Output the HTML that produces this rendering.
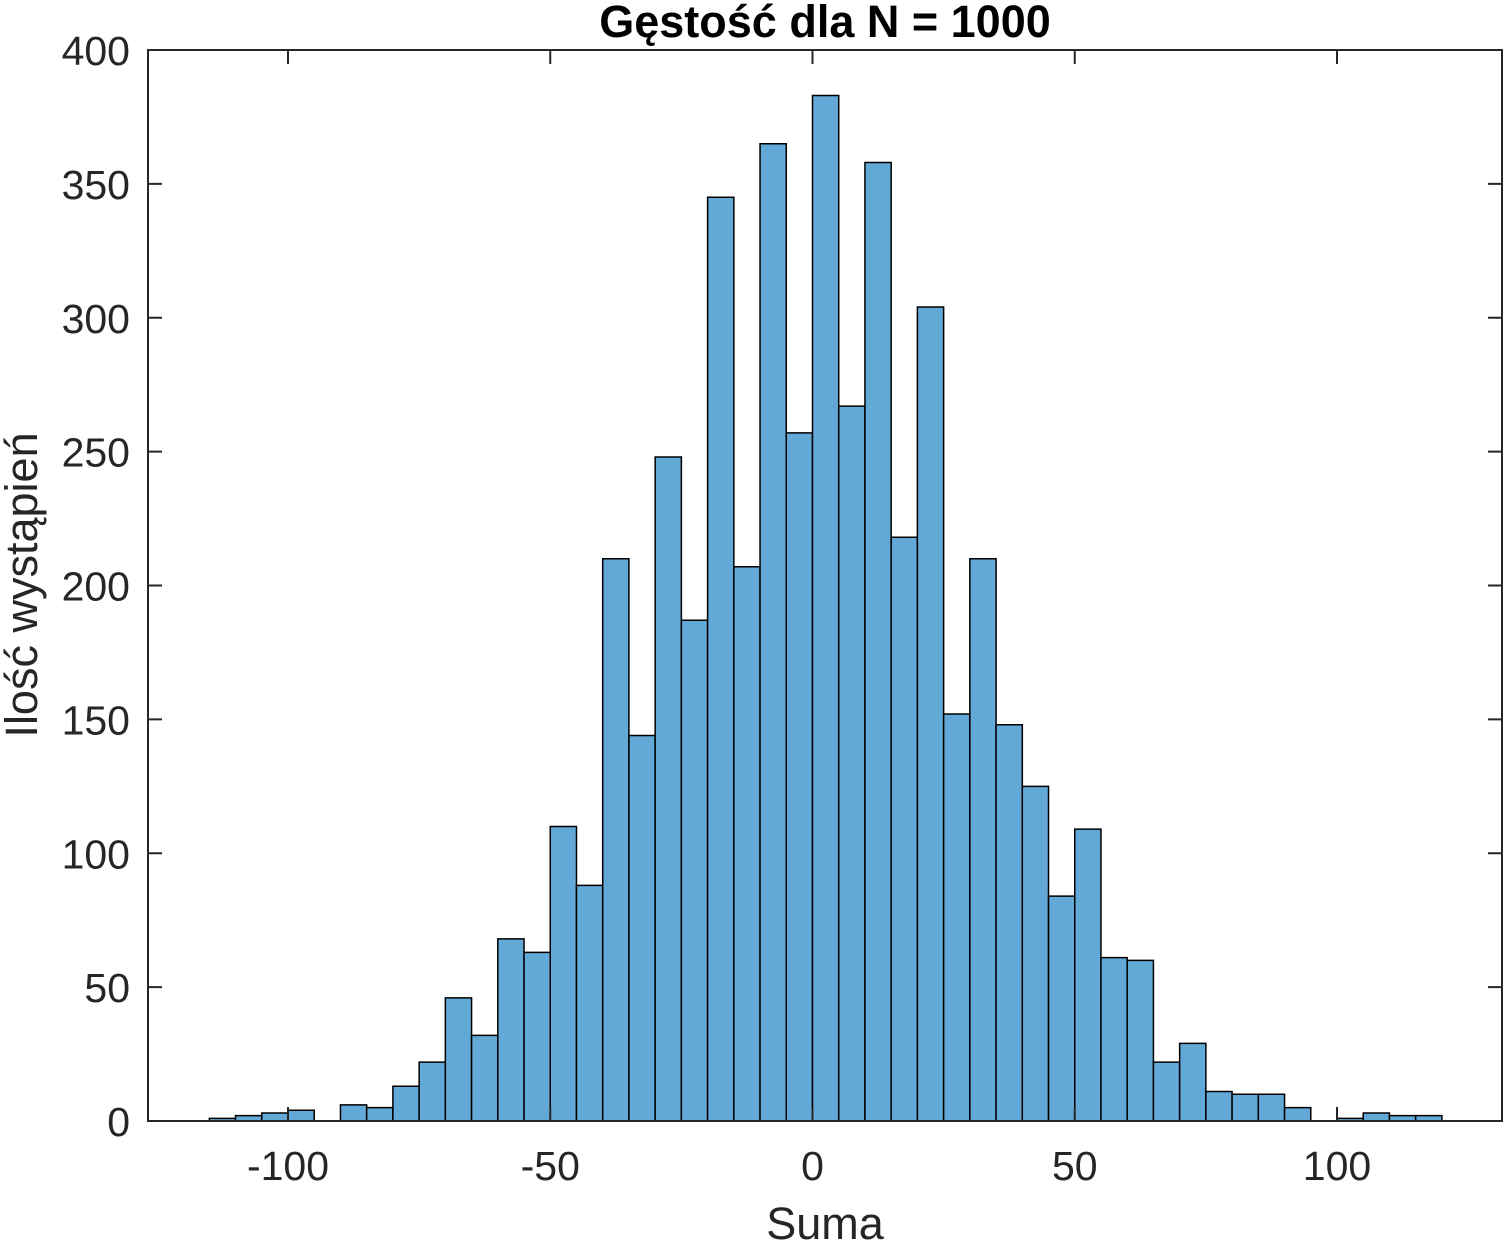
<!DOCTYPE html>
<html><head><meta charset="utf-8"><style>
html,body{margin:0;padding:0;background:#fff;}
svg text{font-family:"Liberation Sans",sans-serif;fill:#262626;}
</style></head><body>
<svg id="chart" width="1506" height="1244" xmlns="http://www.w3.org/2000/svg">
<g id="bars"></g>
<g id="axes"></g>
<text x="825" y="37" text-anchor="middle" font-size="45" font-weight="bold" style="fill:#000">Gęstość dla N = 1000</text>
<text x="825" y="1239" text-anchor="middle" font-size="45">Suma</text>
<text transform="translate(37,585) rotate(-90)" text-anchor="middle" font-size="45">Ilość wystąpień</text>
</svg>
<script>
const binStarts=[-115,-110,-105,-100,-95,-90,-85,-80,-75,-70,-65,-60,-55,-50,-45,-40,-35,-30,-25,-20,-15,-10,-5,0,5,10,15,20,25,30,35,40,45,50,55,60,65,70,75,80,85,90,95,100,105,110,115];
const counts=[1,2,3,4,0,6,5,13,22,46,32,68,63,110,88,210,144,248,187,345,207,365,257,383,267,358,218,304,152,210,148,125,84,109,61,60,22,29,11,10,10,5,0,1,3,2,2];
const binWidth=5;
const xTicks=[-100,-50,0,50,100];
const yTicks=[0,50,100,150,200,250,300,350,400];
const L=148,R=1502,T=50,B=1121;
const xs=v=>812.5+v*5.245;
const ys=v=>B-(v/400)*(B-T);
const NS="http://www.w3.org/2000/svg";
const bars=document.getElementById('bars');
binStarts.forEach((s,i)=>{
  const x0=xs(s),x1=xs(s+binWidth),y=ys(counts[i]);
  const r=document.createElementNS(NS,'path');
  r.setAttribute('d',`M${x0},${B}V${y}H${x1}V${B}Z`);
  r.setAttribute('fill','#63a9d7');r.setAttribute('stroke','#000');r.setAttribute('stroke-width','1.5');
  
  
  bars.appendChild(r);
});
const ax=document.getElementById('axes');
function line(x1,y1,x2,y2,name){
  const l=document.createElementNS(NS,'line');
  l.setAttribute('x1',x1);l.setAttribute('y1',y1);l.setAttribute('x2',x2);l.setAttribute('y2',y2);
  l.setAttribute('stroke','#262626');l.setAttribute('stroke-width','2');
  
  
  ax.appendChild(l);
}
function text(x,y,s,anchor,name){
  const t=document.createElementNS(NS,'text');
  t.setAttribute('x',x);t.setAttribute('y',y);t.setAttribute('text-anchor',anchor);t.setAttribute('font-size','41');
  t.textContent=s;
  
  
  ax.appendChild(t);
}
const box=document.createElementNS(NS,'rect');
box.setAttribute('x',L);box.setAttribute('y',T);box.setAttribute('width',R-L);box.setAttribute('height',B-T);
box.setAttribute('fill','none');box.setAttribute('stroke','#262626');box.setAttribute('stroke-width','2');


ax.appendChild(box);
xTicks.forEach(v=>{
  const x=xs(v);
  line(x,B,x,B-14,'x-tick');line(x,T,x,T+14,'x-tick-top');
  text(x,1180,v,'middle','x-tick-label');
});
yTicks.forEach(v=>{
  const y=ys(v);
  line(L,y,L+14,y,'y-tick');line(R,y,R-14,y,'y-tick-right');
  text(130,y+15,v,'end','y-tick-label');
});
</script>
</body></html>
